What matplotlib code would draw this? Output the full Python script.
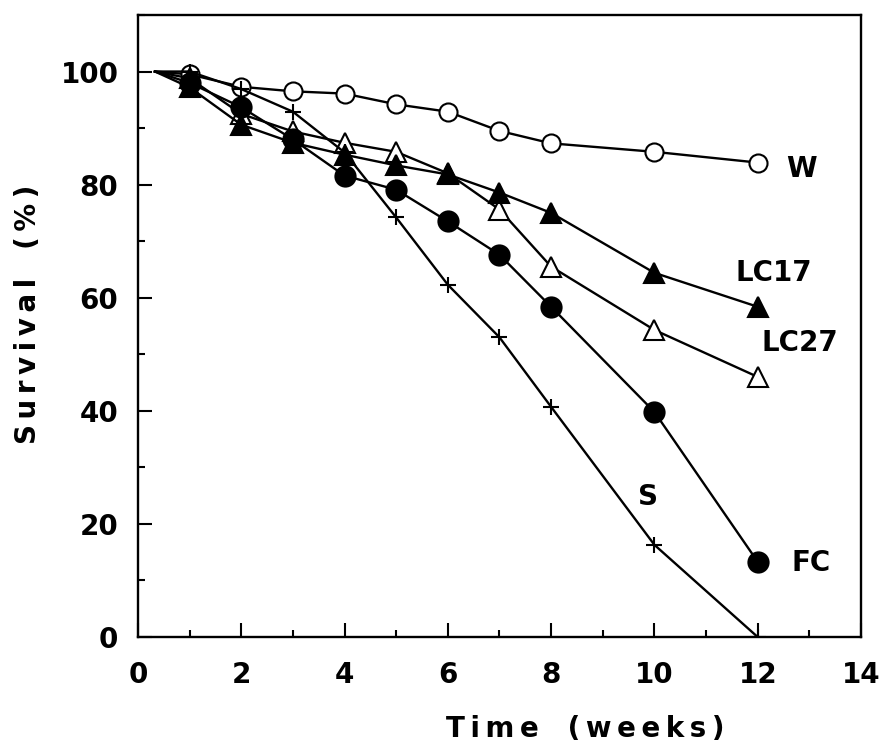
import matplotlib.pyplot as plt
from matplotlib.ticker import MultipleLocator, FixedLocator

plt.rcParams['font.family'] = ['DejaVu Sans']
plt.rcParams['font.weight'] = 'bold'

# weeks (first value is the common start point, drawn without a marker)
weeks = [0.33, 1, 2, 3, 4, 5, 6, 7, 8, 10, 12]

w_surv = [100, 99.5, 97.3, 96.5, 96.1, 94.2, 92.9, 89.5, 87.3, 85.8, 83.9]
lc17_surv = [100, 97.2, 90.6, 87.4, 85.3, 83.4, 81.8, 78.6, 75.0, 64.4, 58.4]
lc27_surv = [100, 98.8, 92.5, 89.4, 87.4, 85.8, 82.0, 75.6, 65.5, 54.3, 46.0]
fc_surv = [100, 98.0, 93.7, 88.0, 81.6, 79.1, 73.5, 67.6, 58.4, 39.8, 13.3]
s_surv = [100, 100, 96.9, 92.9, 85.7, 74.2, 62.3, 53.0, 40.7, 16.3, 0]

series_names = ['W', 'LC17', 'LC27', 'FC', 'S']
label_x = [12.84, 12.32, 12.82, 13.03, 9.88]
label_y = [82.7, 64.4, 52.0, 13.1, 24.8]

x_ticks = [0, 2, 4, 6, 8, 10, 12, 14]
y_ticks = [0, 20, 40, 60, 80, 100]


def spaced(s, sep='\u2009'):
    # imitate the wide letter spacing of the original typesetting
    return sep.join(s)


fig = plt.figure(figsize=(8.84, 7.49), dpi=100)
ax = fig.add_axes([0.156, 0.1495, 0.818, 0.8305])

lw = 1.7
mk = dict(markevery=list(range(1, len(weeks))), color='black', lw=lw, mew=1.5)
ax.plot(weeks, w_surv, marker='o', ms=13, mfc='white', **mk)
ax.plot(weeks, lc27_surv, marker='^', ms=14, mfc='white', **mk)
ax.plot(weeks, lc17_surv, marker='^', ms=14, mfc='black', **mk)
ax.plot(weeks, fc_surv, marker='o', ms=14.5, mfc='black', **mk)
ax.plot(weeks, s_surv, marker='+', ms=12, mfc='black', **mk)

for name, lx, ly in zip(series_names, label_x, label_y):
    ax.text(lx, ly, name, fontsize=20, fontweight='bold',
            ha='center', va='center')

ax.set_xlim(0, 14)
ax.set_ylim(0, 110)
ax.xaxis.set_major_locator(FixedLocator(x_ticks))
ax.xaxis.set_minor_locator(MultipleLocator(1))
ax.yaxis.set_major_locator(FixedLocator(y_ticks))
ax.yaxis.set_minor_locator(MultipleLocator(10))

ax.tick_params(which='both', direction='in', width=1.5, top=False, right=False,
               labelsize=20)
ax.tick_params(which='major', length=10)
ax.tick_params(axis='x', which='major', pad=17)
ax.tick_params(axis='y', which='major', pad=14)
ax.tick_params(which='minor', length=5)
for sp in ax.spines.values():
    sp.set_linewidth(1.7)

ax.set_xlabel(spaced('Time') + '   ' + spaced('(weeks)'), fontsize=20, fontweight='bold')
ax.set_ylabel(spaced('Survival') + '   ' + spaced('(%)'), fontsize=20, fontweight='bold')
ax.xaxis.set_label_coords(0.618, -0.125)
ax.yaxis.set_label_coords(-0.133, 0.518)

fig.savefig('out.png', dpi=100)
